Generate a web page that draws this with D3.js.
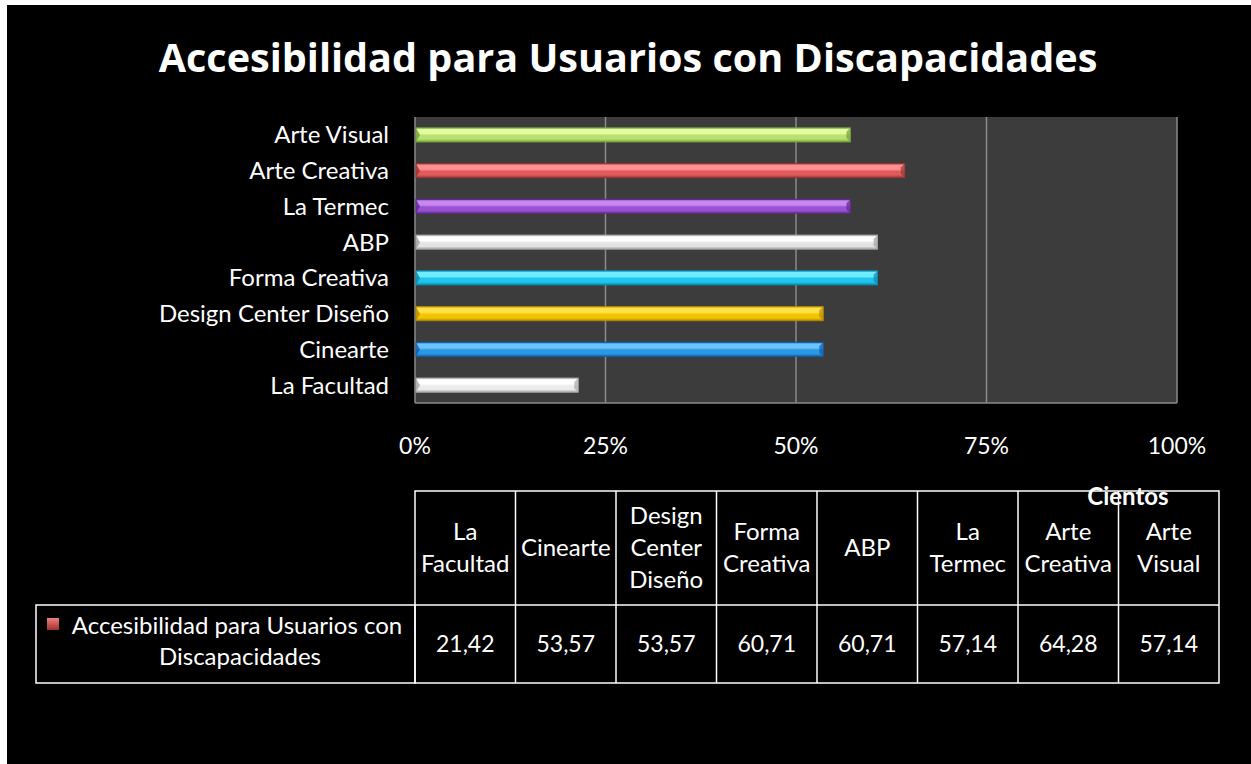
<!DOCTYPE html>
<html>
<head>
<meta charset="utf-8">
<script src="https://cdn.jsdelivr.net/npm/d3@7"></script>
<style>
  body { margin: 0; background: #fff; }
  svg { display: block; }
  text { font-family: Lato, "Open Sans", sans-serif; fill: #fff; }
</style>
</head>
<body>
<div id="chart"></div>
<script>
// data
const categories = ["La Facultad", "Cinearte", "Design Center Diseño", "Forma Creativa", "ABP", "La Termec", "Arte Creativa", "Arte Visual"];
const values = [21.42, 53.57, 53.57, 60.71, 60.71, 57.14, 64.28, 57.14];
const headerLines = [["La", "Facultad"], ["Cinearte"], ["Design", "Center", "Diseño"], ["Forma", "Creativa"], ["ABP"], ["La", "Termec"], ["Arte", "Creativa"], ["Arte", "Visual"]];
const valueLabels = ["21,42", "53,57", "53,57", "60,71", "60,71", "57,14", "64,28", "57,14"];
const ticks = [0, 25, 50, 75, 100];
const seriesName = ["Accesibilidad para Usuarios con", "Discapacidades"];
const title = "Accesibilidad para Usuarios con Discapacidades";

// bar colours [light, base, dark]
const barColors = [
    ["#ffffff", "#ececec", "#a8a8a8"],
    ["#6cc4ff", "#2a98e6", "#105ea8"],
    ["#ffe24a", "#f4c400", "#b88c00"],
    ["#70ecff", "#1ec6ee", "#0c88aa"],
    ["#ffffff", "#e4e4e4", "#a0a0a0"],
    ["#c888f4", "#9a52d2", "#5c2a8c"],
    ["#ff9090", "#e05c5c", "#983434"],
    ["#e4fca0", "#b8e06e", "#74a03c"]
];

const W = 1251, H = 764;
const plot = {left: 415, right: 1177, top: 117, bottom: 403};

const svg = d3.select("#chart").append("svg")
    .attr("width", W)
    .attr("height", H);

// black chart area (white strip at left/top like the screenshot)
svg.append("rect")
    .attr("x", 7).attr("y", 5)
    .attr("width", W - 7).attr("height", H - 5)
    .attr("fill", "#000");

svg.append("text")
    .attr("x", 628).attr("y", 72)
    .attr("text-anchor", "middle")
    .style("font-family", "'Open Sans', sans-serif")
    .style("font-weight", "bold")
    .style("font-size", "39.6px")
    .text(title);

const xScale = d3.scaleLinear()
    .domain([0, 100])
    .range([plot.left, plot.right]);

const yScale = d3.scaleBand()
    .domain(categories.slice().reverse())
    .range([plot.top, plot.bottom])
    .paddingInner(0.6)
    .paddingOuter(0.3);

// plot background
svg.append("rect")
    .attr("x", plot.left).attr("y", plot.top)
    .attr("width", plot.right - plot.left)
    .attr("height", plot.bottom - plot.top)
    .attr("fill", "#3c3c3c");

// gridlines
svg.append("g")
    .selectAll("line")
    .data(ticks.slice(1))
    .enter().append("line")
    .attr("x1", d => xScale(d)).attr("x2", d => xScale(d))
    .attr("y1", plot.top).attr("y2", plot.bottom)
    .attr("stroke", "#8a8a8a")
    .attr("stroke-width", 1.5);

// left and bottom axis lines
svg.append("line")
    .attr("x1", plot.left).attr("x2", plot.left)
    .attr("y1", plot.top).attr("y2", plot.bottom)
    .attr("stroke", "#8a8a8a").attr("stroke-width", 1.5);
svg.append("line")
    .attr("x1", plot.left).attr("x2", plot.right)
    .attr("y1", plot.bottom).attr("y2", plot.bottom)
    .attr("stroke", "#8a8a8a").attr("stroke-width", 1.5);

// gradients
const defs = svg.append("defs");
barColors.forEach((c, i) => {
    const g = defs.append("linearGradient")
        .attr("id", "grad" + i)
        .attr("x1", 0).attr("y1", 0).attr("x2", 0).attr("y2", 1);
    g.append("stop").attr("offset", "0%").attr("stop-color", c[2]);
    g.append("stop").attr("offset", "12%").attr("stop-color", c[0]);
    g.append("stop").attr("offset", "40%").attr("stop-color", c[0]);
    g.append("stop").attr("offset", "55%").attr("stop-color", c[1]);
    g.append("stop").attr("offset", "80%").attr("stop-color", c[1]);
    g.append("stop").attr("offset", "100%").attr("stop-color", c[2]);
});

const bars = svg.append("g")
    .selectAll("g")
    .data(categories)
    .enter().append("g");

bars.append("rect")
    .attr("x", xScale(0) + 1)
    .attr("y", d => yScale(d))
    .attr("width", (d, i) => xScale(values[i]) - xScale(0) - 1)
    .attr("height", yScale.bandwidth())
    .attr("fill", (d, i) => "url(#grad" + i + ")")
    .attr("stroke", (d, i) => barColors[i][2])
    .attr("stroke-width", 0.8);

// bevel at right end
bars.append("path")
    .attr("d", (d, i) => {
        const x = xScale(values[i]), y = yScale(d), h = yScale.bandwidth(), b = 4;
        return "M" + (x - b) + "," + (y + b) + "L" + x + "," + y + "L" + x + "," + (y + h) + "L" + (x - b) + "," + (y + h - b) + "Z";
    })
    .attr("fill", (d, i) => barColors[i][2])
    .attr("opacity", 0.7);

// bevel at left end
bars.append("path")
    .attr("d", d => {
        const x = xScale(0) + 1, y = yScale(d), h = yScale.bandwidth(), b = 4;
        return "M" + x + "," + y + "L" + (x + b) + "," + (y + h / 2) + "L" + x + "," + (y + h) + "Z";
    })
    .attr("fill", (d, i) => barColors[i][2])
    .attr("opacity", 0.8);

// category labels
svg.append("g")
    .selectAll("text")
    .data(categories)
    .enter().append("text")
    .attr("x", 389)
    .attr("y", d => yScale(d) + yScale.bandwidth() / 2)
    .attr("dy", "0.35em")
    .attr("text-anchor", "end")
    .style("font-size", "24px")
    .text(d => d);

// x tick labels
svg.append("g")
    .selectAll("text")
    .data(ticks)
    .enter().append("text")
    .attr("x", d => xScale(d))
    .attr("y", 446)
    .attr("dy", "0.35em")
    .attr("text-anchor", "middle")
    .style("font-size", "23px")
    .text(d => d + "%");

// data table
const table = {top: 491, mid: 605, bottom: 683, legendLeft: 36};
const colX = d3.scaleLinear().domain([0, categories.length]).range([415, 1219]);
const tbl = svg.append("g");

tbl.append("rect")
    .attr("x", colX(0)).attr("y", table.top)
    .attr("width", colX(categories.length) - colX(0))
    .attr("height", table.bottom - table.top)
    .attr("fill", "none").attr("stroke", "#fff").attr("stroke-width", 1.5);
tbl.append("rect")
    .attr("x", table.legendLeft).attr("y", table.mid)
    .attr("width", colX(0) - table.legendLeft)
    .attr("height", table.bottom - table.mid)
    .attr("fill", "none").attr("stroke", "#fff").attr("stroke-width", 1.5);
tbl.append("line")
    .attr("x1", colX(0)).attr("x2", colX(categories.length))
    .attr("y1", table.mid).attr("y2", table.mid)
    .attr("stroke", "#fff").attr("stroke-width", 1.5);
tbl.selectAll(".vline")
    .data(d3.range(1, categories.length))
    .enter().append("line")
    .attr("class", "vline")
    .attr("x1", d => colX(d)).attr("x2", d => colX(d))
    .attr("y1", table.top).attr("y2", table.bottom)
    .attr("stroke", "#fff").attr("stroke-width", 1.5);

// header labels
const lineH = 32;
tbl.selectAll(".hdr")
    .data(headerLines)
    .enter().append("text")
    .attr("class", "hdr")
    .attr("text-anchor", "middle")
    .style("font-size", "24px")
    .each(function (lines, i) {
        const cy = (table.top + table.mid) / 2 - (lines.length - 1) * lineH / 2;
        d3.select(this).selectAll("tspan")
            .data(lines)
            .enter().append("tspan")
            .attr("x", (colX(i) + colX(i + 1)) / 2)
            .attr("y", (l, j) => cy + j * lineH)
            .attr("dy", "0.35em")
            .text(l => l);
    });

// values
tbl.selectAll(".val")
    .data(valueLabels)
    .enter().append("text")
    .attr("class", "val")
    .attr("x", (d, i) => (colX(i) + colX(i + 1)) / 2)
    .attr("y", (table.mid + table.bottom) / 2)
    .attr("dy", "0.35em")
    .attr("text-anchor", "middle")
    .style("font-size", "23px")
    .text(d => d);

// legend cell
const lg = defs.append("linearGradient")
    .attr("id", "legGrad").attr("x1", 0).attr("y1", 0).attr("x2", 0).attr("y2", 1);
lg.append("stop").attr("offset", "0%").attr("stop-color", "#f08080");
lg.append("stop").attr("offset", "100%").attr("stop-color", "#a03030");
tbl.append("rect")
    .attr("x", 47).attr("y", 618)
    .attr("width", 12).attr("height", 12)
    .attr("fill", "url(#legGrad)");
tbl.append("text")
    .attr("x", 237).attr("y", 626)
    .attr("dy", "0.35em")
    .attr("text-anchor", "middle")
    .style("font-size", "24px")
    .text(seriesName[0]);
tbl.append("text")
    .attr("x", 240).attr("y", 657)
    .attr("dy", "0.35em")
    .attr("text-anchor", "middle")
    .style("font-size", "24px")
    .text(seriesName[1]);

// units label
svg.append("text")
    .attr("x", 1128).attr("y", 497)
    .attr("dy", "0.35em")
    .attr("text-anchor", "middle")
    .style("font-size", "24px")
    .style("font-weight", "bold")
    .text("Cientos");
</script>
</body>
</html>
